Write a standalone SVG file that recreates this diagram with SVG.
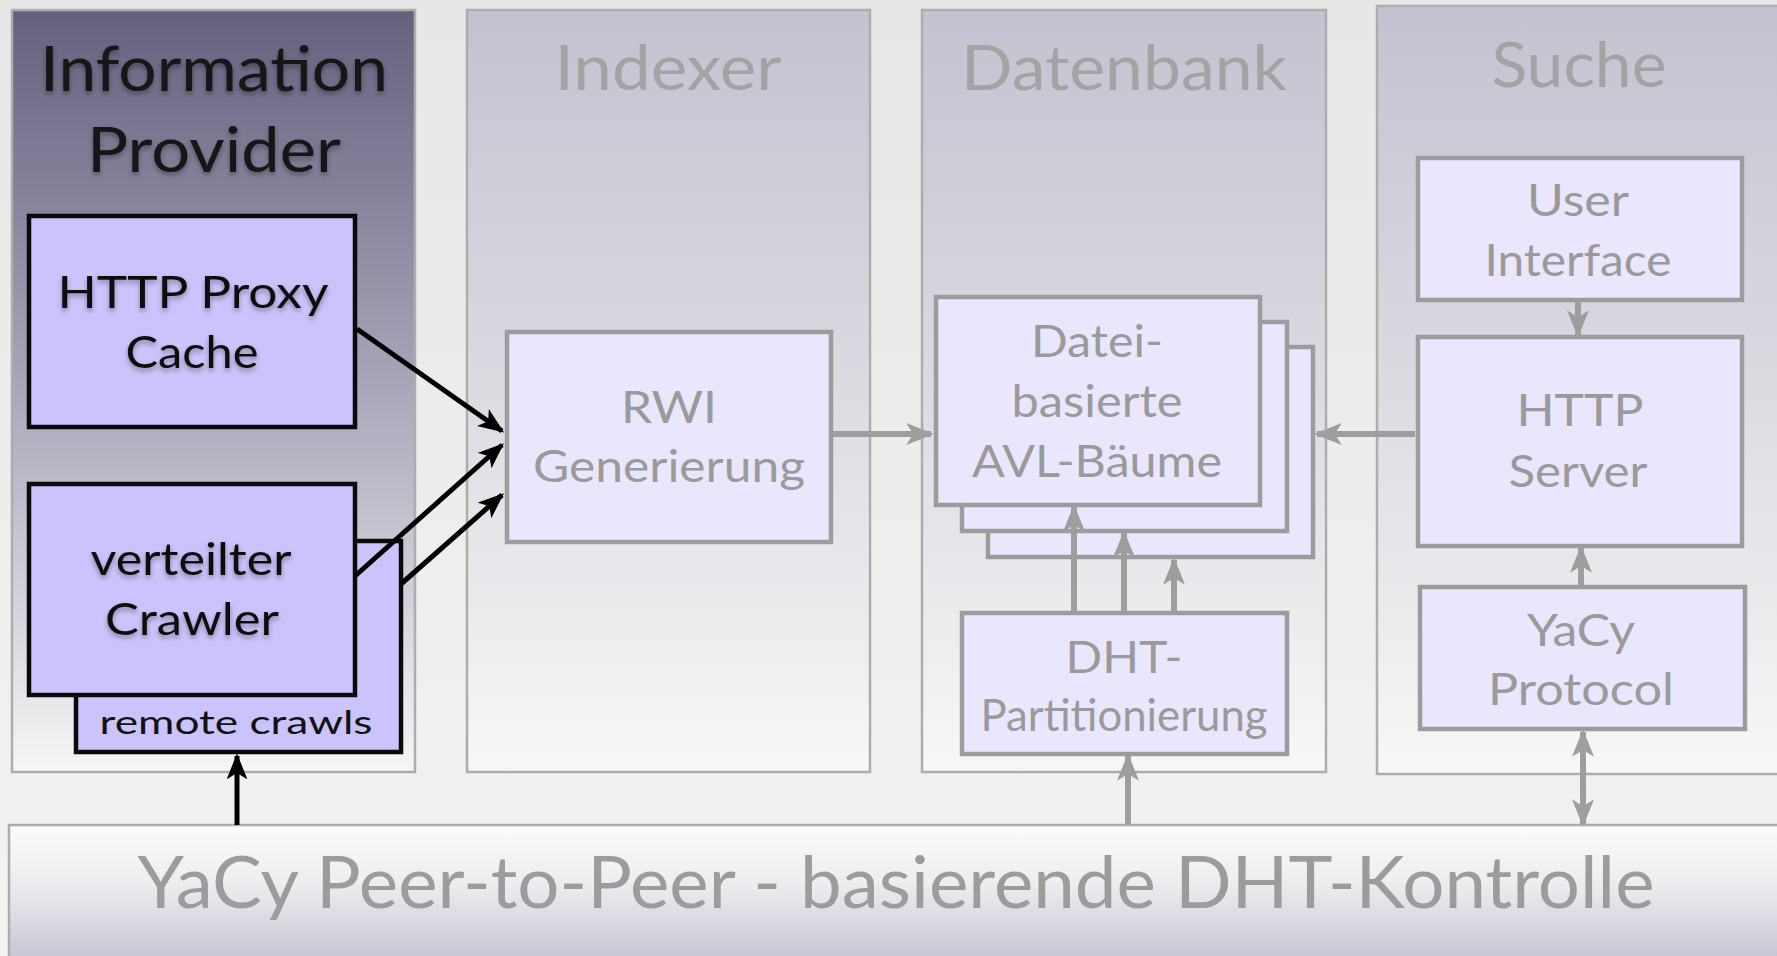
<svg xmlns="http://www.w3.org/2000/svg" width="1777" height="956" viewBox="0 0 1777 956">
<style>
  text { font-family: Lato, "Open Sans", "Liberation Sans", sans-serif; text-anchor: middle; }
  .col { stroke: #adadad; stroke-width: 2.5; }
  .title1 { font-size: 62px; fill: #141414; }
  .title { font-size: 62px; fill: #a3a3a3; }
  .box1 { fill: #cbc3fb; stroke: #0a0a0a; stroke-width: 4.5; }
  .box { fill: #e9e6fd; stroke: #9c9c9c; stroke-width: 4.5; }
  .t1 { font-size: 44px; fill: #111; }
  .t { font-size: 44px; fill: #9a9a9a; }
  .bk { stroke: #000; stroke-width: 5; fill: none; }
  .gr { stroke: #9e9e9e; stroke-width: 6; fill: none; }
</style>
<defs>
  <linearGradient id="bg" x1="0" y1="0" x2="0" y2="1">
    <stop offset="0" stop-color="#e7e7e7"/>
    <stop offset="1" stop-color="#f3f3f3"/>
  </linearGradient>
  <linearGradient id="gcol1" x1="0" y1="0" x2="0" y2="1">
    <stop offset="0" stop-color="#66607f"/>
    <stop offset="0.5" stop-color="#aaa7ba"/>
    <stop offset="1" stop-color="#f6f6f6"/>
  </linearGradient>
  <linearGradient id="gcol" x1="0" y1="0" x2="0" y2="1">
    <stop offset="0" stop-color="#c4c2d0"/>
    <stop offset="0.5" stop-color="#dcdbe2"/>
    <stop offset="1" stop-color="#f7f7f7"/>
  </linearGradient>
  <linearGradient id="gbar" x1="0" y1="0" x2="0" y2="1">
    <stop offset="0" stop-color="#fbfbfb"/>
    <stop offset="0.4" stop-color="#eeeef1"/>
    <stop offset="1" stop-color="#c4c2d1"/>
  </linearGradient>
  <filter id="sh" x="-10%" y="-20%" width="120%" height="150%">
    <feDropShadow dx="0" dy="3" stdDeviation="2.5" flood-color="#000" flood-opacity="0.35"/>
  </filter>
  <marker id="ab" viewBox="0 0 20 16" markerWidth="26" markerHeight="21" refX="18" refY="8" orient="auto-start-reverse" markerUnits="userSpaceOnUse">
    <path d="M0,0 L20,8 L0,16 L5,8 z" fill="#000"/>
  </marker>
  <marker id="ag" viewBox="0 0 20 16" markerWidth="28" markerHeight="22" refX="18" refY="8" orient="auto-start-reverse" markerUnits="userSpaceOnUse">
    <path d="M0,0 L20,8 L0,16 L5,8 z" fill="#9e9e9e"/>
  </marker>
</defs>

<rect x="0" y="0" width="1777" height="956" fill="url(#bg)"/>

<g id="col-information-provider">
  <rect class="col" x="12" y="10" width="403" height="762" fill="url(#gcol1)"/>
  <text class="title1" x="214" y="91" textLength="348" lengthAdjust="spacingAndGlyphs" filter="url(#sh)">Information</text>
  <text class="title1" x="214" y="172" textLength="254" lengthAdjust="spacingAndGlyphs" filter="url(#sh)">Provider</text>
</g>
<g id="col-indexer">
  <rect class="col" x="467" y="10" width="403" height="762" fill="url(#gcol)"/>
  <text class="title" x="668" y="90" textLength="227" lengthAdjust="spacingAndGlyphs">Indexer</text>
</g>
<g id="col-datenbank">
  <rect class="col" x="922" y="10" width="404" height="762" fill="url(#gcol)"/>
  <text class="title" x="1124" y="90" textLength="326" lengthAdjust="spacingAndGlyphs">Datenbank</text>
</g>
<g id="col-suche">
  <rect class="col" x="1377" y="6" width="412" height="768" fill="url(#gcol)"/>
  <text class="title" x="1579" y="87" textLength="175" lengthAdjust="spacingAndGlyphs">Suche</text>
</g>

<g id="bottom-bar">
  <rect x="9" y="825" width="1772" height="140" fill="url(#gbar)" stroke="#acacac" stroke-width="2.5"/>
  <text x="896" y="908" font-size="72" fill="#9c9c9c" textLength="1517" lengthAdjust="spacingAndGlyphs">YaCy Peer-to-Peer - basierende DHT-Kontrolle</text>
</g>

<g id="node-remote-crawls">
  <rect class="box1" x="76" y="541" width="325" height="211"/>
  <text x="236" y="734" font-size="33" fill="#111" textLength="273" lengthAdjust="spacingAndGlyphs">remote crawls</text>
</g>
<g id="node-http-proxy-cache">
  <rect class="box1" x="29" y="216" width="326" height="211"/>
  <text class="t1" x="193" y="308" textLength="271" lengthAdjust="spacingAndGlyphs" filter="url(#sh)">HTTP Proxy</text>
  <text class="t1" x="192" y="368" textLength="133" lengthAdjust="spacingAndGlyphs" filter="url(#sh)">Cache</text>
</g>
<g id="node-verteilter-crawler">
  <rect class="box1" x="29" y="484" width="326" height="211"/>
  <text class="t1" x="191" y="575" textLength="201" lengthAdjust="spacingAndGlyphs" filter="url(#sh)">verteilter</text>
  <text class="t1" x="192" y="635" textLength="174" lengthAdjust="spacingAndGlyphs" filter="url(#sh)">Crawler</text>
</g>

<g id="node-rwi">
  <rect class="box" x="507" y="332" width="324" height="210"/>
  <text class="t" x="669" y="423" textLength="96" lengthAdjust="spacingAndGlyphs">RWI</text>
  <text class="t" x="669" y="482" textLength="272" lengthAdjust="spacingAndGlyphs">Generierung</text>
</g>

<g id="node-avl">
  <rect class="box" x="988" y="347" width="325" height="210"/>
  <rect class="box" x="962" y="322" width="325" height="209"/>
  <rect class="box" x="936" y="297" width="324" height="208"/>
  <text class="t" x="1097" y="357" textLength="132" lengthAdjust="spacingAndGlyphs">Datei-</text>
  <text class="t" x="1097" y="417" textLength="171" lengthAdjust="spacingAndGlyphs">basierte</text>
  <text class="t" x="1097" y="477" textLength="250" lengthAdjust="spacingAndGlyphs">AVL-Bäume</text>
</g>

<g id="node-dht">
  <rect class="box" x="962" y="613" width="325" height="141"/>
  <text class="t" x="1124" y="673" textLength="117" lengthAdjust="spacingAndGlyphs">DHT-</text>
  <text class="t" x="1124" y="731" textLength="287" lengthAdjust="spacingAndGlyphs">Partitionierung</text>
</g>

<g id="node-user-interface">
  <rect class="box" x="1418" y="158" width="324" height="142"/>
  <text class="t" x="1578" y="216" textLength="102" lengthAdjust="spacingAndGlyphs">User</text>
  <text class="t" x="1578" y="276" textLength="187" lengthAdjust="spacingAndGlyphs">Interface</text>
</g>
<g id="node-http-server">
  <rect class="box" x="1418" y="337" width="324" height="209"/>
  <text class="t" x="1580" y="426" textLength="127" lengthAdjust="spacingAndGlyphs">HTTP</text>
  <text class="t" x="1578" y="487" textLength="139" lengthAdjust="spacingAndGlyphs">Server</text>
</g>
<g id="node-yacy-protocol">
  <rect class="box" x="1420" y="587" width="325" height="142"/>
  <text class="t" x="1581" y="646" textLength="108" lengthAdjust="spacingAndGlyphs">YaCy</text>
  <text class="t" x="1581" y="705" textLength="186" lengthAdjust="spacingAndGlyphs">Protocol</text>
</g>

<g id="connectors">
  <line class="bk" x1="357" y1="329" x2="502" y2="431" marker-end="url(#ab)"/>
  <line class="bk" x1="355" y1="576" x2="502" y2="445" marker-end="url(#ab)"/>
  <line class="bk" x1="401" y1="584" x2="502" y2="495" marker-end="url(#ab)"/>
  <line class="bk" x1="237" y1="825" x2="237" y2="756" marker-end="url(#ab)"/>
  <line class="gr" x1="833" y1="434" x2="931" y2="434" marker-end="url(#ag)"/>
  <line class="gr" x1="1415" y1="434" x2="1317" y2="434" marker-end="url(#ag)"/>
  <line class="gr" x1="1074" y1="611" x2="1074" y2="507" marker-end="url(#ag)"/>
  <line class="gr" x1="1124" y1="611" x2="1124" y2="533" marker-end="url(#ag)"/>
  <line class="gr" x1="1174" y1="611" x2="1174" y2="560" marker-end="url(#ag)"/>
  <line class="gr" x1="1128" y1="825" x2="1128" y2="756" marker-end="url(#ag)"/>
  <line class="gr" x1="1578" y1="302" x2="1578" y2="335" marker-end="url(#ag)"/>
  <line class="gr" x1="1581" y1="585" x2="1581" y2="548" marker-end="url(#ag)"/>
  <line class="gr" x1="1583" y1="732" x2="1583" y2="824" marker-start="url(#ag)" marker-end="url(#ag)"/>
</g>
</svg>
